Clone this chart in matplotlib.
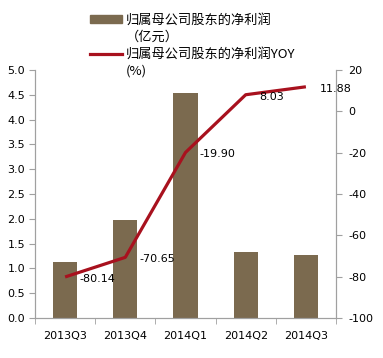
import matplotlib
matplotlib.use("Agg")
import matplotlib.pyplot as plt
from matplotlib.patches import Patch
from matplotlib.lines import Line2D

plt.rcParams['font.family'] = ['DejaVu Sans', 'Noto Sans CJK SC']
plt.rcParams['font.size'] = 8
plt.rcParams['axes.unicode_minus'] = False

quarters = ['2013Q3', '2013Q4', '2014Q1', '2014Q2', '2014Q3']
profit = [1.13, 1.97, 4.53, 1.33, 1.27]
yoy = [-80.14, -70.65, -19.90, 8.03, 11.88]
yoy_labels = ['-80.14', '-70.65', '-19.90', '8.03', '11.88']

bar_c = '#7B6A4F'
line_c = '#A8111E'
axis_c = '#A0A0A0'

fig = plt.figure(figsize=(3.83, 3.58), dpi=100)
ax = fig.add_axes([35/383, 1-318/358, 301/383, 248/358])
x = list(range(len(quarters)))
ax.bar(x, profit, width=0.4, color=bar_c, zorder=1)
ax.set_xlim(-0.5, len(quarters)-0.5)
ax.set_ylim(0, 5)
ax.set_yticks([i*0.5 for i in range(11)])
ax.set_yticklabels(['%.1f' % (i*0.5) for i in range(11)])
ax.set_xticks(x)
ax.set_xticklabels(quarters)
ax.set_xticks([i-0.5 for i in range(len(quarters)+1)], minor=True)
ax.tick_params(axis='x', which='major', length=0, pad=9)
ax.tick_params(axis='x', which='minor', length=4, color=axis_c, direction='out')
ax.tick_params(axis='y', length=4, color=axis_c, direction='out', pad=3)
ax.spines['top'].set_visible(False)
for s in ['left', 'bottom', 'right']:
    ax.spines[s].set_color(axis_c)

ax2 = ax.twinx()
ax2.plot(x, yoy, color=line_c, lw=2.3, solid_capstyle='butt', zorder=3)
ax2.set_ylim(-100, 20)
ax2.set_yticks(range(-100, 21, 20))
ax2.tick_params(axis='y', length=4, color=axis_c, direction='out', pad=5)
ax2.spines['top'].set_visible(False)
for s in ['left', 'bottom', 'right']:
    ax2.spines[s].set_color(axis_c)
for xi, yi, lab in zip(x, yoy, yoy_labels):
    ax2.annotate(lab, (xi, yi), xytext=(14, -2), textcoords='offset pixels',
                 ha='left', va='center', fontsize=8)

handles = [Patch(color=bar_c), Patch(color='none'),
           Line2D([], [], color=line_c, lw=2.3), Patch(color='none')]
labels = ['归属母公司股东的净利润', '（亿元）', '归属母公司股东的净利润YOY', '(%)']
fig.legend(handles, labels, loc='upper left', bbox_to_anchor=(90/383, 1-14/358),
           frameon=False, borderpad=0, borderaxespad=0, handlelength=2.4,
           handletextpad=0.3, labelspacing=0.3, handleheight=0.55,
           prop={'family': ['Noto Sans CJK SC', 'DejaVu Sans'], 'size': 9.5})

fig.savefig('out.png', dpi=100)
